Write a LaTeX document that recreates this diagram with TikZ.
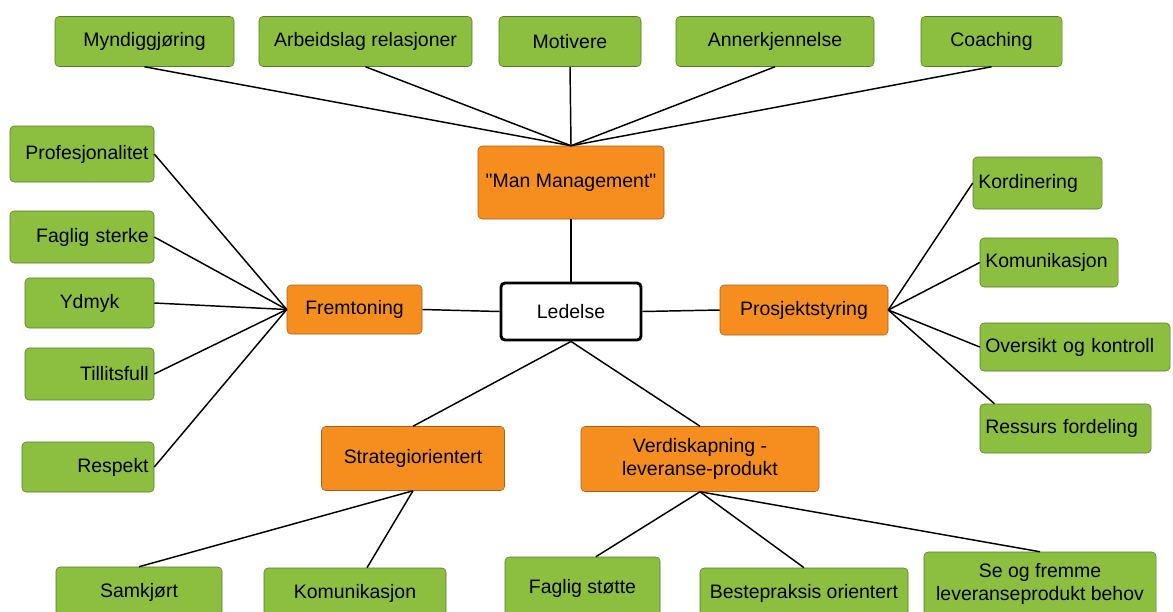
\documentclass[tikz,border=0pt]{standalone}
\usepackage{fontspec}
\setmainfont{Liberation Sans}[Ligatures=TeXOff]
\usepackage{tikz}
\usetikzlibrary{positioning}

\definecolor{leaffill}{RGB}{140,190,64}
\definecolor{leafline}{RGB}{88,122,40}
\definecolor{mainfill}{RGB}{246,142,31}
\definecolor{mainline}{RGB}{168,96,22}

\tikzset{
	box/.style={rectangle, rounded corners=3pt, thin, align=center, inner sep=4pt, font=\fontsize{14.6}{17.5}\selectfont},
	leaf/.style={box, draw=leafline, fill=leaffill},
	branch/.style={box, draw=mainline, fill=mainfill},
	root/.style={box, line width=2.2pt, draw=black, fill=white},
	link/.style={line width=1.1pt, draw=black}
}

\begin{document}
\begin{tikzpicture}[x=0.75pt, y=-0.75pt]
		\useasboundingbox (0,0) rectangle (1173,611);
		\clip (0,0) rectangle (1173,611);

		% centre
		\node[root, minimum width=105pt, minimum height=42.75pt] (led) at (571,311.5) {Ledelse};

		\node[branch, minimum width=139.5pt, minimum height=54.75pt] (man) at (571,182.5) {"Man Management"};
		\node[branch, minimum width=101.25pt, minimum height=36.75pt] (frem) at (354.5,309.5) {Fremtoning};
		\node[branch, minimum width=126pt, minimum height=37.5pt] (prosj) at (804,310) {Prosjektstyring};
		\node[branch, minimum width=137.25pt, minimum height=48pt] (strat) at (413,458.5) {Strategiorientert};
		\node[branch, minimum width=178.5pt, minimum height=48.75pt] (verdi) at (700,459) {Verdiskapning -\\leveranse-produkt};

		% top row
		\node[leaf, minimum width=134.25pt, minimum height=37.5pt] (mynd) at (144.5,41.5) {Myndiggjøring};
		\node[leaf, minimum width=159.75pt, minimum height=37.5pt] (arb) at (365.5,41.5) {Arbeidslag relasjoner};
		\node[leaf, minimum width=106.5pt, minimum height=37.5pt] (mot) at (570,41.5) {Motivere};
		\node[leaf, minimum width=148.5pt, minimum height=37.5pt] (anner) at (775,41.5) {Annerkjennelse};
		\node[leaf, minimum width=105.75pt, minimum height=37.5pt] (coach) at (991.5,41.5) {Coaching};

		% left column
		\node[leaf, text width=100pt, align=right, minimum height=42pt] (prof) at (82,154) {Profesjonalitet};
		\node[leaf, text width=100pt, align=right, minimum height=39pt] (fagst) at (82,237) {Faglig sterke};
		\node[leaf, minimum width=96.75pt, minimum height=37.5pt] (ydmyk) at (89.5,303) {Ydmyk};
		\node[leaf, text width=88.75pt, align=right, minimum height=39pt] (tillit) at (89.5,374) {Tillitsfull};
		\node[leaf, text width=91pt, align=right, minimum height=37.5pt] (resp) at (88,467) {Respekt};

		% right column
		\node[leaf, text width=88.75pt, align=left, minimum height=39pt] (kord) at (1037.5,183) {Kordinering};
		\node[leaf, text width=95.5pt, align=left, minimum height=36.75pt] (komr) at (1049,262.5) {Komunikasjon};
		\node[leaf, text width=134.5pt, align=left, minimum height=36pt] (overs) at (1075,347) {Oversikt og kontroll};
		\node[leaf, text width=120.25pt, align=left, minimum height=36.75pt] (ress) at (1065.5,428.5) {Ressurs fordeling};

		% bottom row
		\node[leaf, minimum width=124.5pt, minimum height=37.5pt] (samk) at (139,592) {Samkjørt};
		\node[leaf, minimum width=136.5pt, minimum height=37.5pt] (komb) at (355,593) {Komunikasjon};
		\node[leaf, minimum width=116.25pt, minimum height=46.5pt] (fagl) at (582.5,588) {Faglig støtte};
		\node[leaf, minimum width=156pt, minimum height=37.5pt] (beste) at (804,593) {Bestepraksis orientert};
		\node[leaf, minimum width=174pt, minimum height=48pt] (seog) at (1040,584) {Se og fremme\\leveranseprodukt behov};

		\path [link] (man.south) -- (led.north);
		\path [link] (led.west) -- (frem.east);
		\path [link] (led.east) -- (prosj.west);
		\path [link] (led.south) -- (strat.north);
		\path [link] (led.south) -- (verdi.north);

		\foreach \n in {mynd, arb, mot, anner, coach}
			\path [link] (\n.south) -- (man.north);
		\foreach \n in {prof, fagst, ydmyk, tillit, resp}
			\path [link] (frem.west) -- (\n.east);
		\foreach \n in {kord, komr, overs}
			\path [link] (prosj.east) -- (\n.west);
		\path [link] (prosj.east) -- ([xshift=11pt]ress.north west);

		\path [link] (strat.south) -- (samk.north);
		\path [link] (strat.south) -- ([xshift=9pt]komb.north);
		\path [link] (verdi.south) -- ([xshift=10pt]fagl.north);
		\path [link] (verdi.south) -- (beste.north);
		\path [link] (verdi.south) -- (seog.north);
	\end{tikzpicture}
\end{document}
